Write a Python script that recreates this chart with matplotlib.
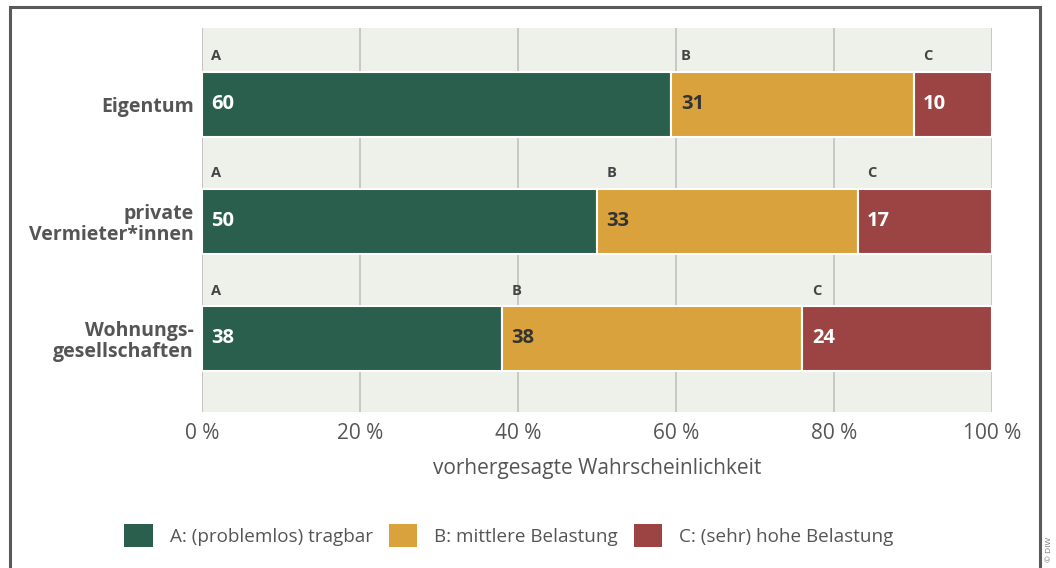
import matplotlib
matplotlib.use("Agg")
import matplotlib.pyplot as plt
from matplotlib.patches import Rectangle

plt.rcParams['font.family'] = ['Open Sans', 'DejaVu Sans']

# data
categories = ['Eigentum', 'private\nVermieter*innen', 'Wohnungs-\ngesellschaften']
val_a = [60, 50, 38]
val_b = [31, 33, 38]
val_c = [10, 17, 24]
seg_letters = ['A', 'B', 'C']
legend_labels = ['A: (problemlos) tragbar', 'B: mittlere Belastung', 'C: (sehr) hohe Belastung']
xticks = [0, 20, 40, 60, 80, 100]

colors = ['#2A5F4E', '#D9A23C', '#9C4444']
text_colors = ['white', '#333333', 'white']
grey = '#555555'

fig = plt.figure(figsize=(10.56, 5.68), dpi=100)
ax = fig.add_axes([0.1913, 0.2746, 0.748, 0.676])
ax.set_facecolor('#EEF0EA')

# frame round the figure
fig.patches.append(Rectangle((0.009, -0.05), 0.976, 1.038, transform=fig.transFigure,
                             fill=False, edgecolor='#5a5a5a', linewidth=2.2))

ypos = list(range(len(categories)))
h = 0.556
series = [val_a, val_b, val_c]
for i, y in enumerate(ypos):
    left = 0
    total = val_a[i] + val_b[i] + val_c[i]
    for j, s in enumerate(series):
        v = s[i] * 100 / total
        ax.barh(y, v, left=left, height=h, color=colors[j], edgecolor='white', linewidth=1.5, zorder=3)
        ax.text(left + 1.2, y, str(s[i]), color=text_colors[j], fontsize=14.5, fontweight='bold',
                va='center', ha='left', zorder=4)
        ax.text(left + 1.2, y - h / 2 - 0.13, seg_letters[j], color='#444444', fontsize=10.5,
                fontweight='bold', va='center', ha='left', zorder=4)
        left += v

ax.set_xlim(0, 100)
ax.set_ylim(2.63, -0.65)
ax.set_yticks(ypos)
ax.set_yticklabels(categories, fontsize=14, fontweight='bold', color=grey, linespacing=1.1)
ax.set_xticks(xticks)
ax.set_xticklabels([f'{t} %' for t in xticks], fontsize=15, color=grey)
ax.set_xlabel('vorhergesagte Wahrscheinlichkeit', fontsize=15, color=grey, labelpad=10)
ax.tick_params(axis='x', length=0, pad=8)
ax.tick_params(axis='y', length=0, pad=6)
ax.grid(axis='x', color='#c4c4c4', linewidth=1.3, zorder=1)
for sp in ax.spines.values():
    sp.set_visible(False)
ax.axvline(0, color='#c4c4c4', linewidth=1.3, zorder=2)

# legend
handles = [Rectangle((0, 0), 1, 1, facecolor=c) for c in colors]
fig.legend(handles, legend_labels, loc='center', bbox_to_anchor=(0.482, 0.057), ncol=3,
           frameon=False, fontsize=13.6, handlelength=1.5, handleheight=1.5,
           handletextpad=0.9, columnspacing=0.85, labelcolor=grey)

fig.text(0.994, 0.01, '© DIW', rotation=90, fontsize=6, color='#777777', va='bottom', ha='center')

fig.savefig('out.png', dpi=100)
